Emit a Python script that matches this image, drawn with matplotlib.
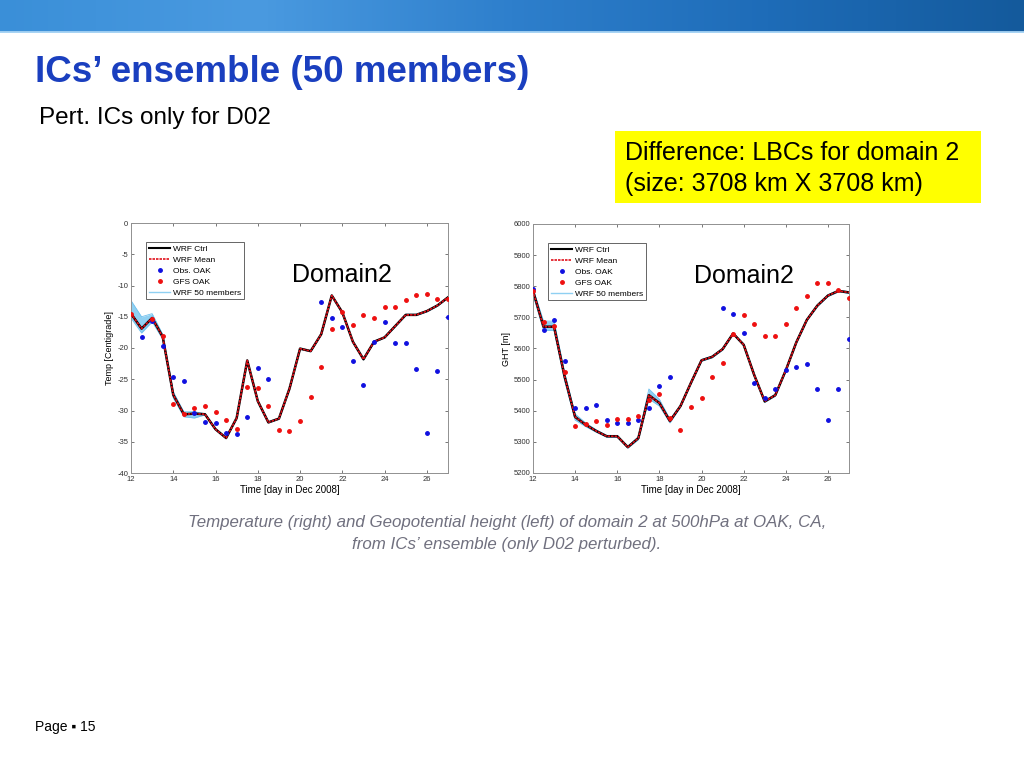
import numpy as np
import matplotlib
matplotlib.use("Agg")
import matplotlib.pyplot as plt
from matplotlib.lines import Line2D

# time axis: every 12 h from Dec 12 to Dec 27, 2008
days = np.arange(12, 27.01, 0.5)

# Temperature at 500hPa (left panel)
temp_wrf = [-14.5, -16.9, -15.2, -18.2, -27.5, -30.6, -30.5, -30.6, -33.0, -34.4,
            -31.2, -22.0, -28.5, -31.9, -31.3, -26.5, -20.1, -20.5, -17.8, -11.6,
            -14.3, -19.0, -21.8, -19.0, -18.3, -16.5, -14.7, -14.7, -14.1, -13.2, -11.9]
temp_ens_up = [2.1, 1.9, 0.7, 0.4, 0.5, 0.4, 0.3, 0.1, 0.1, 0.1, 0.1, 0.1, 0.1, 0.1, 0.1, 0.1,
               0.1, 0.1, 0.1, 0.1, 0.1, 0.1, 0.1, 0.1, 0.1, 0.1, 0.1, 0.1, 0.1, 0.1, 0.1]
temp_ens_dn = [0.7, 0.7, 0.6, 0.4, 0.5, 0.4, 0.7, 0.1, 0.1, 0.1, 0.1, 0.1, 0.1, 0.1, 0.1, 0.1,
               0.1, 0.1, 0.1, 0.1, 0.1, 0.1, 0.1, 0.1, 0.1, 0.1, 0.1, 0.1, 0.1, 0.1, 0.1]
temp_obs_days = [12.5, 13, 13.5, 14, 14.5, 15, 15.5, 16, 16.5, 17, 17.5, 18, 18.5,
                 21, 21.5, 22, 22.5, 23, 23.5, 24, 24.5, 25, 25.5, 26, 26.5, 27]
temp_obs = [-18.3, -15.6, -19.6, -24.6, -25.2, -30.4, -31.8, -32.0, -33.6, -33.8, -31.0, -23.2, -25.0,
            -12.6, -15.2, -16.6, -22.0, -25.9, -19.0, -15.8, -19.2, -19.2, -23.4, -33.6, -23.6, -15.0]
temp_gfs_days = [12, 13, 13.5, 14, 14.5, 15, 15.5, 16, 16.5, 17, 17.5, 18, 18.5, 19, 19.5, 20,
                 20.5, 21, 21.5, 22, 22.5, 23, 23.5, 24, 24.5, 25, 25.5, 26, 26.5, 27]
temp_gfs = [-14.6, -15.4, -18.1, -28.9, -30.5, -29.6, -29.2, -30.2, -31.5, -32.9, -26.2, -26.4,
            -29.3, -33.1, -33.2, -31.6, -27.9, -23.1, -17.0, -14.3, -16.3, -14.7, -15.2, -13.4,
            -13.5, -12.3, -11.5, -11.4, -12.1, -12.2]

# Geopotential height at 500hPa (right panel)
ght_wrf = [5785, 5670, 5670, 5510, 5380, 5355, 5335, 5318, 5318, 5283, 5312, 5450, 5425, 5367,
           5415, 5490, 5562, 5573, 5598, 5648, 5612, 5515, 5430, 5450, 5530, 5620, 5692, 5738,
           5770, 5785, 5780]
ght_ens_up = [8, 18, 18, 14, 10, 6, 4, 3, 3, 3, 5, 20, 12, 6, 3, 3, 3, 3, 3, 3,
              3, 3, 3, 3, 3, 3, 3, 3, 3, 3, 3]
ght_ens_dn = [12, 12, 12, 14, 10, 6, 4, 3, 3, 3, 5, 12, 10, 6, 3, 3, 3, 3, 3, 3,
              3, 3, 3, 3, 3, 3, 3, 3, 3, 3, 3]
ght_obs_days = [12, 12.5, 13, 13.5, 14, 14.5, 15, 15.5, 16, 16.5, 17, 17.5, 18, 18.5,
                21, 21.5, 22, 22.5, 23, 23.5, 24, 24.5, 25, 25.5, 26, 26.5, 27]
ght_obs = [5790, 5660, 5690, 5560, 5410, 5410, 5420, 5370, 5360, 5360, 5370, 5410, 5480, 5510,
           5730, 5710, 5650, 5490, 5440, 5470, 5530, 5540, 5550, 5470, 5370, 5470, 5630]
ght_gfs = [5785, 5685, 5672, 5525, 5350, 5358, 5368, 5355, 5372, 5373, 5383, 5435, 5455, 5378,
           5338, 5412, 5440, 5510, 5555, 5648, 5708, 5680, 5640, 5640, 5680, 5730, 5768, 5812,
           5812, 5788, 5763]

W, H = 1024, 768
MEMBER_BLUE = "#8fd0f2"

plt.rcParams["font.family"] = ["Liberation Sans", "DejaVu Sans"]
plt.rcParams["axes.unicode_minus"] = False


def px_axes(fig, x0, y0, x1, y1, **kw):
    # pixel box (top-left origin) -> figure axes
    return fig.add_axes([x0 / W, 1 - y1 / H, (x1 - x0) / W, (y1 - y0) / H], **kw)


def draw_panel(ax, wrf, up, dn, obs_x, obs_y, gfs_x, gfs_y, ylim, yticks, ylabel):
    wrf = np.array(wrf)
    lo = wrf - np.array(dn)
    hi = wrf + np.array(up)
    ax.fill_between(days, lo, hi, color=MEMBER_BLUE, lw=0, zorder=1)
    ax.plot(days, hi, color="#6fc0ee", lw=0.6, zorder=1)
    ax.plot(days, lo, color="#6fc0ee", lw=0.6, zorder=1)
    ax.plot(days, wrf, color="black", lw=1.8, zorder=2)
    ax.plot(days, wrf, color="#e0101a", lw=1.2, ls=(0, (1.5, 0.6)), zorder=3)
    ax.plot(obs_x, obs_y, ".", color="#1010e0", ms=5, zorder=4)
    ax.plot(gfs_x, gfs_y, ".", color="#ee1010", ms=5, zorder=4)

    ax.set_xlim(12, 27)
    ax.set_ylim(*ylim)
    ax.set_xticks(np.arange(12, 27, 2))
    ax.set_yticks(yticks)
    ax.tick_params(direction="in", length=2.5, width=0.5, labelsize=5.5,
                   top=True, right=True, colors="#404040", labelcolor="#303030", pad=2)
    for s in ax.spines.values():
        s.set_color("#909090")
        s.set_linewidth(0.7)
    ax.set_xlabel("Time [day in Dec 2008]", fontsize=7, labelpad=1.5)
    ax.set_ylabel(ylabel, fontsize=6.5, labelpad=2)

    handles = [
        Line2D([], [], color="black", lw=1.5),
        Line2D([], [], color="#e0101a", lw=1.2, ls=(0, (1.5, 0.6))),
        Line2D([], [], color="#1010e0", marker=".", ls="none", ms=5),
        Line2D([], [], color="#ee1010", marker=".", ls="none", ms=5),
        Line2D([], [], color=MEMBER_BLUE, lw=1.0),
    ]
    labels = ["WRF Ctrl", "WRF Mean", "Obs. OAK", "GFS OAK", "WRF 50 members"]
    leg = ax.legend(handles, labels, loc="upper left", bbox_to_anchor=(0.048, 0.922),
                    fontsize=6, frameon=True, fancybox=False, handlelength=2.6,
                    handletextpad=0.35, borderpad=0.3, labelspacing=0.38, borderaxespad=0)
    leg.get_frame().set_edgecolor("#202020")
    leg.get_frame().set_linewidth(0.6)
    ax.text(0.508, 0.79, "Domain2", transform=ax.transAxes, fontsize=18,
            ha="left", va="center")


fig = plt.figure(figsize=(W / 100, H / 100), dpi=100)

# header band
band = px_axes(fig, 0, 0, W, 33)
grad = np.linspace(0, 1, 256).reshape(1, -1)
cmap = matplotlib.colors.LinearSegmentedColormap.from_list(
    "hdr", ["#3a8fd8", "#4a9ae0", "#2e7fcc", "#1e6cb8", "#145a9c"])
band.imshow(grad, aspect="auto", cmap=cmap, extent=[0, 1, 0, 1])
band.axhline(0.02, color="#a8d4f4", lw=2)
band.axis("off")

fig.text(35 / W, 1 - 72 / H, "ICs\u2019 ensemble (50 members)", fontsize=26.5,
         fontweight="bold", color="#1a3fbf", ha="left", va="center")
fig.text(39 / W, 1 - 118 / H, "Pert. ICs only for D02", fontsize=17.5,
         color="black", ha="left", va="center")

# yellow note box
note = px_axes(fig, 615, 131, 981, 203)
note.set_facecolor("#ffff00")
note.set_xticks([])
note.set_yticks([])
for s in note.spines.values():
    s.set_visible(False)
note.text(0.027, 0.70, "Difference: LBCs for domain 2", fontsize=18, va="center", ha="left")
note.text(0.027, 0.27, "(size: 3708 km X 3708 km)", fontsize=18, va="center", ha="left")

ax1 = px_axes(fig, 131, 223, 448, 473)
draw_panel(ax1, temp_wrf, temp_ens_up, temp_ens_dn, temp_obs_days, temp_obs,
           temp_gfs_days, temp_gfs, (-40, 0), np.arange(-40, 1, 5), "Temp [Centigrade]")

ax2 = px_axes(fig, 533, 224, 849, 473)
draw_panel(ax2, ght_wrf, ght_ens_up, ght_ens_dn, ght_obs_days, ght_obs,
           days, ght_gfs, (5200, 6000), np.arange(5200, 6001, 100), "GHT [m]")

fig.text(507 / W, 1 - 522 / H,
         "Temperature (right) and Geopotential height (left) of domain 2 at 500hPa at OAK, CA,",
         fontsize=12.2, style="italic", color="#70707f", ha="center", va="center")
fig.text(507 / W, 1 - 544 / H, "from ICs\u2019 ensemble (only D02 perturbed).",
         fontsize=12.2, style="italic", color="#70707f", ha="center", va="center")

fig.text(35 / W, 1 - 727 / H, "Page \u25aa 15", fontsize=10, color="black",
         ha="left", va="center")

fig.savefig("out.png", dpi=100)
